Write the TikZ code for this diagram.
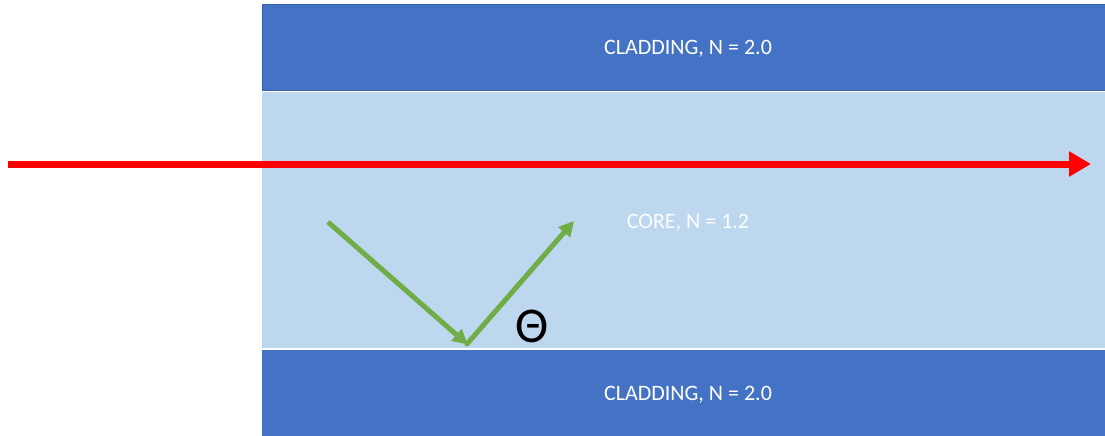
\documentclass[tikz,border=0pt]{standalone}
\usepackage{fontspec}
\setmainfont{Carlito}
\usetikzlibrary{arrows.meta}
\definecolor{clad}{HTML}{4472C4}
\definecolor{coreblue}{HTML}{BDD7EE}
\definecolor{ray}{HTML}{FF0000}
\definecolor{green}{HTML}{70AD47}
\tikzset{
  layer/.style={anchor=north west, inner sep=0pt, outer sep=0pt},
  label/.style={text=white, font=\fontsize{22}{24}\selectfont},
  redray/.style={draw=ray, line width=7pt, -{Triangle[length=22pt,width=24pt]}},
  greenray/.style={draw=green, line width=5pt, -{Triangle[length=15pt,width=15pt]}},
}
\begin{document}
\begin{tikzpicture}[x=1pt,y=-1pt]
  \useasboundingbox (0,0) rectangle (1105,436);
  \fill[white] (0,0) rectangle (1105,436);
  % waveguide layers
  \node[layer, fill=clad, draw=clad!85!black, line width=0.6pt, minimum width=843pt, minimum height=86pt] (top) at (262,4) {};
  \node[layer, fill=coreblue, minimum width=843pt, minimum height=256pt] (core) at (262,92) {};
  \node[layer, fill=clad, minimum width=843pt, minimum height=86pt] (bottom) at (262,350) {};
  \node[label] (toplabel) at (688,48.5) {CLADDING, N = 2.0};
  \node[label, text=white!96!coreblue] (corelabel) at (688,223) {CORE, N = 1.2};
  \node[label] (bottomlabel) at (688,395) {CLADDING, N = 2.0};
  % straight ray along the axis
  \coordinate (rstart) at (8,164);
  \coordinate (rend) at (1091,164);
  \draw[redray] (rstart) -- (rend);
  % reflected ray
  \coordinate (gin) at (328,222);
  \coordinate (gbounce) at (467,344);
  \coordinate (gout) at (574,221);
  \draw[greenray, shorten >=-1pt] (gin) -- (gbounce);
  \draw[greenray, line cap=round] (gbounce) -- (gout);
  \node[font=\fontsize{50}{50}\selectfont, inner sep=0pt] (theta) at (532,326) {Θ};
\end{tikzpicture}
\end{document}
